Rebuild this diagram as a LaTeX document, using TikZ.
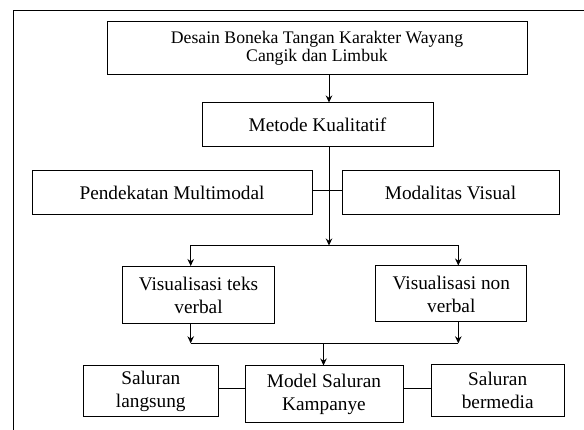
\documentclass[tikz,border=0pt]{standalone}
\usepackage{fontspec}
\setmainfont{Liberation Serif}
\usetikzlibrary{shapes.geometric, arrows.meta}

\begin{document}
\begin{tikzpicture}[x=1pt,y=-1pt]
			\tikzstyle{rect} = [rectangle, draw=black, line width=1pt, text centered, align=center, inner sep=0pt, font=\fontsize{19.3}{23}\selectfont]
			\tikzstyle{arrow} = [line width=1pt, -{Stealth[length=7pt,width=6.5pt]}]
			\tikzstyle{link} = [line width=1pt]

			\useasboundingbox (0,0) rectangle (584,430);
			\draw [link] (13.5,431) -- (13.5,10.7) -- (585,10.7);

			\node (desain) at (317,48.5) [rect, minimum width=420pt, minimum height=53pt, font=\fontsize{17.7}{18.5}\selectfont] {Desain Boneka Tangan Karakter Wayang\\Cangik dan Limbuk};
			\node (metode) at (317.5,125) [rect, minimum width=231pt, minimum height=44pt] {Metode Kualitatif};
			\node (pendekatan) at (172,193) [rect, minimum width=280pt, minimum height=44pt] {Pendekatan Multimodal};
			\node (modalitas) at (450.5,193) [rect, minimum width=217pt, minimum height=44pt] {Modalitas Visual};
			\node (vteks) at (198.5,295) [rect, minimum width=152pt, minimum height=57pt] {Visualisasi teks\\verbal};
			\node (vnon) at (451.3,294) [rect, minimum width=151pt, minimum height=56pt] {Visualisasi non\\verbal};
			\node (langsung) at (150.8,391) [rect, minimum width=135pt, minimum height=51pt] {Saluran\\langsung};
			\node (model) at (324,394) [rect, minimum width=158pt, minimum height=56pt] {Model Saluran\\Kampanye};
			\node (bermedia) at (497.7,390.5) [rect, minimum width=133pt, minimum height=51pt] {Saluran\\bermedia};

			\coordinate (spine) at (329,0);
			\coordinate (fork) at (329,245.5);
			\coordinate (forkL) at (190.7,245.5);
			\coordinate (forkR) at (458.3,245.5);
			\coordinate (joinL) at (190.7,343.3);
			\coordinate (joinR) at (458.3,343.3);
			\coordinate (join) at (323.5,343.3);
			\coordinate (level) at (0,388.5);

			\draw [arrow] (desain.south -| spine) -- (metode.north -| spine);
			\draw [arrow] (metode.south -| spine) -- (fork);
			\draw [link] (pendekatan.east |- 0,191) -- (modalitas.west |- 0,191);
			\draw [link] (forkL) -- (forkR);
			\draw [arrow] (forkL) -- (vteks.north -| forkL);
			\draw [arrow] (forkR) -- (vnon.north -| forkR);
			\draw [arrow] (vteks.south -| joinL) -- (joinL);
			\draw [arrow] (vnon.south -| joinR) -- (joinR);
			\draw [link] (joinL) -- (joinR);
			\draw [arrow] (join) -- (model.north -| join);
			\draw [link] (langsung.east |- level) -- (model.west |- level);
			\draw [link] (model.east |- level) -- (bermedia.west |- level);

		\end{tikzpicture}
\end{document}
